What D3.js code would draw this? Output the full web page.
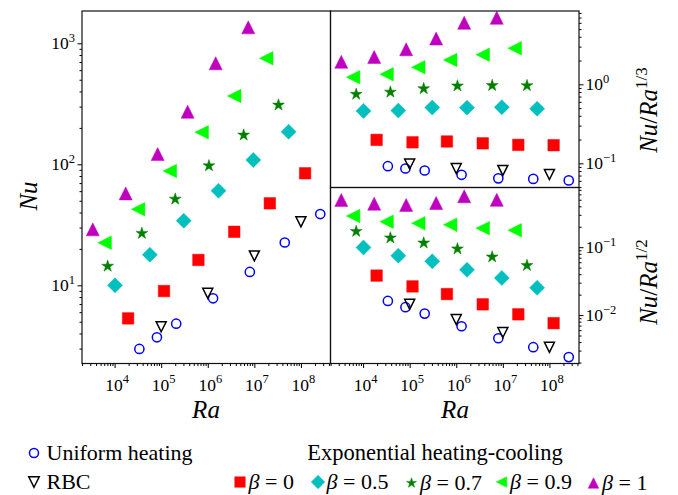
<!DOCTYPE html>
<html>
<head>
<meta charset="utf-8">
<script src="https://cdn.jsdelivr.net/npm/d3@7"></script>
<style>
body{margin:0;background:#fff;}
svg{font-family:"Liberation Serif","Times New Roman",serif;}
</style>
</head>
<body>
<div id="chart"></div>
<script>
const raUniform = [3.4e4, 8.1e4, 2.1e5, 1.3e6, 8.0e6, 4.5e7, 2.6e8];
const nuUniform = [2.98, 3.72, 4.82, 7.81, 12.9, 22.6, 38.8];
const raRBC = [1e5, 1e6, 1e7, 1e8];
const nuRBC = [4.55, 8.6, 17.5, 33.5];
const raB0 = [1.95e4, 1.15e5, 6.3e5, 3.7e6, 2.15e7, 1.23e8];
const nuB0 = [5.33, 8.97, 16.2, 27.7, 47.6, 84.3];
const raB05 = [1.02e4, 5.7e4, 3.05e5, 1.7e6, 9.5e6, 5.45e7];
const nuB05 = [10, 17.9, 34.2, 60.5, 108.6, 186];
const raB07 = [7.1e3, 3.85e4, 2.0e5, 1.06e6, 5.9e6, 3.3e7];
const nuB07 = [14.4, 26.9, 51.6, 97.3, 174.6, 309];
const raB09 = [6.1e3, 3.2e4, 1.53e5, 7.4e5, 3.7e6, 1.8e7];
const nuB09 = [22.5, 42.5, 88, 184, 367, 751];
const raB1 = [3.4e3, 1.73e4, 8.4e4, 3.7e5, 1.48e6, 7.4e6];
const nuB1 = [29, 57.5, 121.6, 272, 684, 1355];

const xTicks = [4, 5, 6, 7, 8];
const yTicksLeft = [1, 2, 3];
const yTicksTop = [-1, 0];
const yTicksBottom = [-2, -1];

const legendLabels = ["Uniform heating", "RBC", "0", "0.5", "0.7", "0.9", "1"];

const W = 678, H = 495;
const svg = d3.select("#chart").append("svg").attr("width", W).attr("height", H);

const series = [
    {ra: raUniform, nu: nuUniform, shape: "circle", color: "#0000ff", size: 9.2, open: true},
    {ra: raRBC, nu: nuRBC, shape: "down", color: "#000000", size: 10, open: true},
    {ra: raB0, nu: nuB0, shape: "square", color: "#ff0000", size: 11.5},
    {ra: raB05, nu: nuB05, shape: "diamond", color: "#00bfbf", size: 15},
    {ra: raB07, nu: nuB07, shape: "star", color: "#007f00", size: 12.5},
    {ra: raB09, nu: nuB09, shape: "left", color: "#00ff00", size: 13.5},
    {ra: raB1, nu: nuB1, shape: "up", color: "#bf00bf", size: 13}
];

// matplotlib-like marker outlines
function markerPath(shape, s) {
    const h = s / 2;
    if (shape === "circle") {
        return `M${h},0A${h},${h} 0 1,1 ${-h},0A${h},${h} 0 1,1 ${h},0Z`;
    }
    if (shape === "square") return `M${-h},${-h}H${h}V${h}H${-h}Z`;
    if (shape === "diamond") return `M0,${-h}L${h},0L0,${h}L${-h},0Z`;
    if (shape === "up") return `M0,${-h}L${h},${h}L${-h},${h}Z`;
    if (shape === "down") return `M0,${h}L${h},${-h}L${-h},${-h}Z`;
    if (shape === "left") return `M${-h},0L${h},${-h}L${h},${h}Z`;
    if (shape === "star") {
        let p = [];
        for (let i = 0; i < 10; ++i) {
            let r = i % 2 == 0 ? h : h * 0.381966;
            let a = -Math.PI / 2 + i * Math.PI / 5;
            p.push([r * Math.cos(a), r * Math.sin(a)]);
        }
        return "M" + p.map(d => d[0].toFixed(2) + "," + d[1].toFixed(2)).join("L") + "Z";
    }
}

const xDomain = [Math.pow(10, 3.3), Math.pow(10, 8.635)];
const panels = [
    {x0: 82, x1: 330.5, y0: 11, y1: 363.5, yDom: [Math.pow(10, 0.354), Math.pow(10, 3.267)],
     f: (ra, nu) => nu, side: "left", yMajor: yTicksLeft, xAxis: true},
    {x0: 330.5, x1: 579, y0: 11, y1: 187.5, yDom: [Math.pow(10, -1.306), Math.pow(10, 0.928)],
     f: (ra, nu) => nu / Math.cbrt(ra), side: "right", yMajor: yTicksTop, xAxis: false},
    {x0: 330.5, x1: 579, y0: 187.5, y1: 363.5, yDom: [Math.pow(10, -2.713), Math.pow(10, -0.121)],
     f: (ra, nu) => nu / Math.sqrt(ra), side: "right", yMajor: yTicksBottom, xAxis: true}
];

function expLabel(sel, e) {
    sel.append("tspan").text("10");
    sel.append("tspan").attr("font-size", 12.5).attr("dy", -7.5)
        .text(e < 0 ? "\u2212" + (-e) : e);
}

panels.forEach(p => {
    const x = d3.scaleLog().domain(xDomain).range([p.x0, p.x1]);
    const y = d3.scaleLog().domain(p.yDom).range([p.y1, p.y0]);
    const g = svg.append("g");

    // ticks
    const isMajor = v => Math.abs(Math.log10(v) - Math.round(Math.log10(v))) < 1e-9;
    if (p.xAxis) {
        const all = x.ticks();
        const gx = g.append("g").attr("transform", `translate(0,${p.y1})`);
        gx.append("g").call(d3.axisBottom(x).tickValues(all.filter(v => !isMajor(v))).tickSize(2.5).tickFormat(""));
        gx.append("g").call(d3.axisBottom(x).tickValues(xTicks.map(e => Math.pow(10, e))).tickSize(4.5).tickFormat(""));
        gx.selectAll(".domain").remove();
        gx.selectAll("text").remove();
        gx.selectAll("line").attr("stroke", "#000").attr("stroke-width", 1);
        g.selectAll("text.xlab").data(xTicks).join("text").attr("class", "xlab")
            .attr("x", e => x(Math.pow(10, e)) + 2.5).attr("y", 390.5)
            .attr("text-anchor", "middle").attr("font-size", 17.5)
            .each(function (e) { expLabel(d3.select(this), e); });
    }
    const axisF = p.side === "left" ? d3.axisLeft : d3.axisRight;
    const xa = p.side === "left" ? p.x0 : p.x1;
    const gy = g.append("g").attr("transform", `translate(${xa},0)`);
    const yAll = y.ticks();
    gy.append("g").call(axisF(y).tickValues(yAll.filter(v => !isMajor(v))).tickSize(2.5).tickFormat(""));
    gy.append("g").call(axisF(y).tickValues(p.yMajor.map(e => Math.pow(10, e))).tickSize(4.5).tickFormat(""));
    gy.selectAll(".domain").remove();
    gy.selectAll("text").remove();
    gy.selectAll("line").attr("stroke", "#000").attr("stroke-width", 1);
    g.selectAll("text.ylab").data(p.yMajor).join("text").attr("class", "ylab")
        .attr("x", p.side === "left" ? 75 : 585.5)
        .attr("y", e => y(Math.pow(10, e)) + 6)
        .attr("text-anchor", p.side === "left" ? "end" : "start")
        .attr("font-size", 17.5)
        .each(function (e) { expLabel(d3.select(this), e); });

    // markers
    series.forEach(s => {
        g.append("g").selectAll("path")
            .data(s.ra.map((r, i) => [r, p.f(r, s.nu[i])]))
            .join("path")
            .attr("transform", d => `translate(${x(d[0])},${y(d[1])})`)
            .attr("d", markerPath(s.shape, s.size))
            .attr("fill", s.open ? "none" : s.color)
            .attr("stroke", s.color)
            .attr("stroke-width", s.open ? 1.5 : 0.5)
            .attr("stroke-linejoin", "miter");
    });

    g.append("rect").attr("x", p.x0).attr("y", p.y0)
        .attr("width", p.x1 - p.x0).attr("height", p.y1 - p.y0)
        .attr("fill", "none").attr("stroke", "#111").attr("stroke-width", 1.2);
});

// axis labels
function mathLabel(t, parts) {
    parts.forEach(q => {
        let ts = t.append("tspan").text(q.t);
        if (q.i) ts.attr("font-style", "italic");
        if (q.sup) ts.attr("font-size", 17).attr("dy", -10);
    });
}
svg.append("text").attr("x", 206).attr("y", 418).attr("text-anchor", "middle")
    .attr("font-size", 25).attr("font-style", "italic").text("Ra");
svg.append("text").attr("x", 455).attr("y", 418).attr("text-anchor", "middle")
    .attr("font-size", 25).attr("font-style", "italic").text("Ra");
svg.append("text").attr("transform", "translate(37,196) rotate(-90)").attr("text-anchor", "middle")
    .attr("font-size", 25).attr("font-style", "italic").text("Nu");
mathLabel(svg.append("text").attr("transform", "translate(657,110) rotate(-90)")
    .attr("text-anchor", "middle").attr("font-size", 25),
    [{t: "Nu", i: true}, {t: "/"}, {t: "Ra", i: true}, {t: "1/3", sup: true}]);
mathLabel(svg.append("text").attr("transform", "translate(657,282) rotate(-90)")
    .attr("text-anchor", "middle").attr("font-size", 25),
    [{t: "Nu", i: true}, {t: "/"}, {t: "Ra", i: true}, {t: "1/2", sup: true}]);

// legend
const legPos = [[34, 453], [34, 482], [240, 482], [318, 482], [411.5, 483], [501.5, 482], [593.5, 483]];
const leg = svg.append("g");
series.forEach((s, i) => {
    const [lx, ly] = legPos[i];
    leg.append("path").attr("transform", `translate(${lx},${ly})`)
        .attr("d", markerPath(s.shape, s.shape === "diamond" ? 13.5 : s.shape === "circle" ? 9 : 10.5))
        .attr("fill", s.open ? "none" : s.color)
        .attr("stroke", s.color).attr("stroke-width", s.open ? 1.5 : 0.5);
    const t = leg.append("text").attr("x", lx + (i < 2 ? 12.5 : 8.5)).attr("y", ly + 6.5).attr("font-size", 22);
    if (i < 2) t.text(legendLabels[i]);
    else {
        t.append("tspan").attr("font-style", "italic").text("\u03b2");
        t.append("tspan").text(" = " + legendLabels[i]);
    }
});
leg.append("text").attr("x", 435).attr("y", 460).attr("text-anchor", "middle")
    .attr("font-size", 22.5).text("Exponential heating-cooling");
</script>
</body>
</html>
